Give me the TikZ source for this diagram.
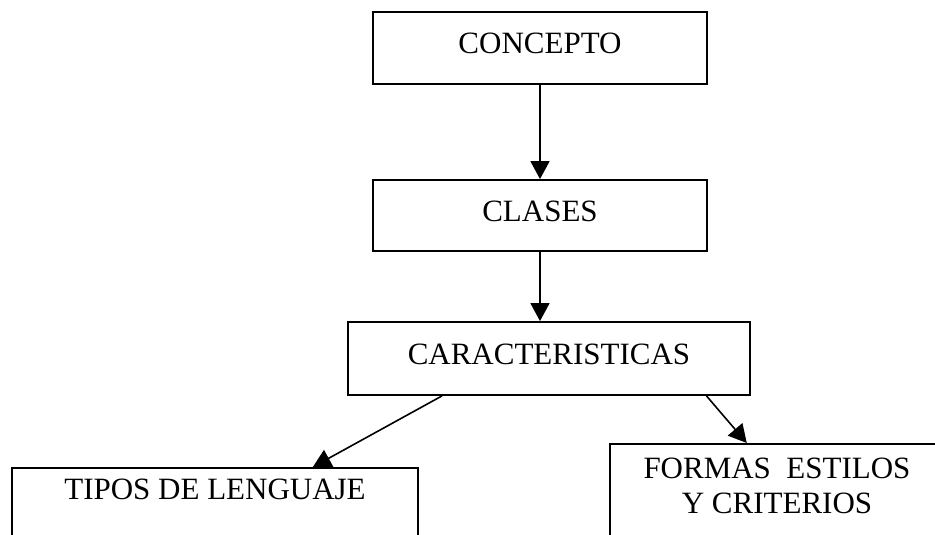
\documentclass[tikz,border=0pt]{standalone}
\usepackage{fontspec}
\setmainfont{Liberation Serif}
\usetikzlibrary{arrows.meta,calc}

\begin{document}
\begin{tikzpicture}[x=1pt, y=-1pt, box/.style={draw, rectangle, line width=1.8pt, inner sep=0pt, font=\fontsize{31}{35}\selectfont, text height=21pt, text depth=10pt}, n/.style={-{Triangle[length=18pt, width=19pt]}, line width=1.6pt}]
            \clip (0,0) rectangle (935,535);
            % nodes
            \node[box, minimum width=334pt, minimum height=72pt] (concepto) at (540,48) {CONCEPTO};
            \node[box, minimum width=334pt, minimum height=71pt] (clases) at (540,215.5) {CLASES};
            \node[box, minimum width=402pt, minimum height=73pt] (caract) at (549,358.5) {CARACTERISTICAS};
            \node[box, minimum width=406pt, anchor=north, inner ysep=11pt, text depth=70pt] (tipos) at (215,467) {TIPOS DE LENGUAJE};
            \node[box, minimum width=334pt, anchor=north, inner ysep=14pt, text depth=80pt] (formas) at (777,443) {\begin{tabular}[t]{@{}c@{}}FORMAS\ \ ESTILOS\\Y CRITERIOS\end{tabular}};
            % edges
            \draw[n] (concepto) -- (clases);
            \draw[n] (clases.south) -- (clases.south |- caract.north);
            \draw[n] ($(caract.south west)!0.235!(caract.south east)$) -- ($(tipos.north west)!0.74!(tipos.north east)$);
            \draw[n] ($(caract.south west)!0.89!(caract.south east)$) -- ($(formas.north west)!0.41!(formas.north east)$);
\end{tikzpicture}
\end{document}
